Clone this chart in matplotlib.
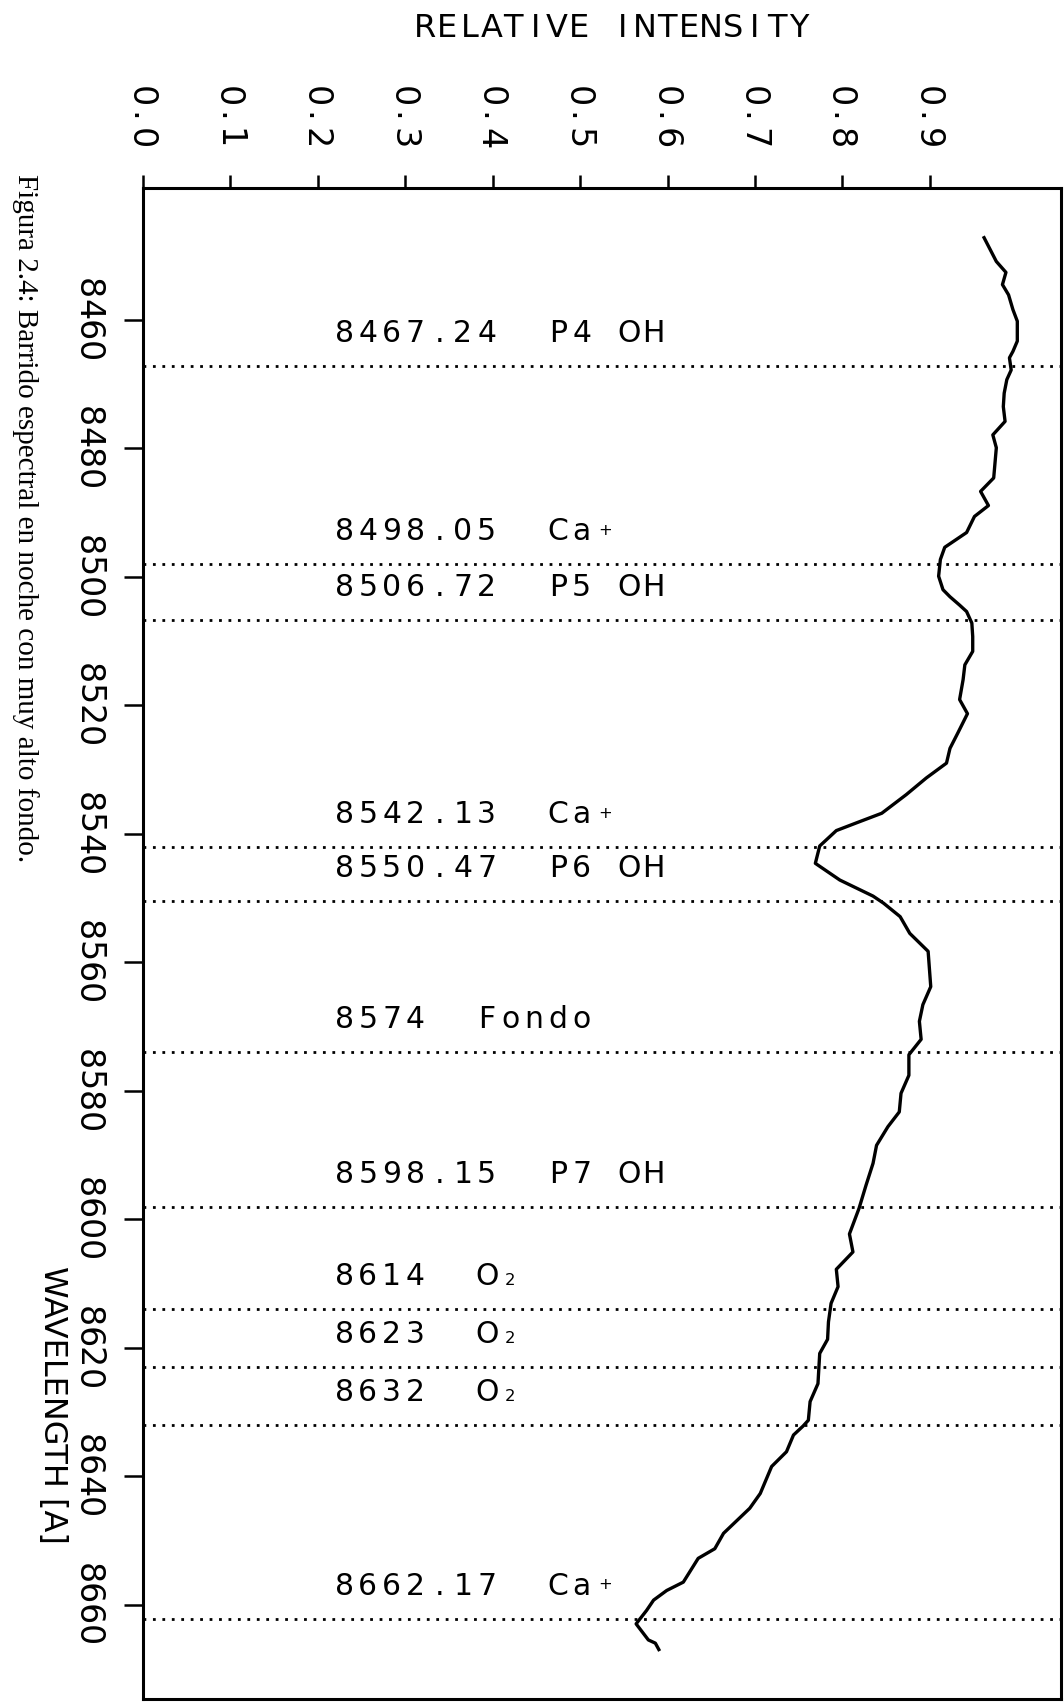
import matplotlib
matplotlib.use('Agg')
import matplotlib.pyplot as plt
import matplotlib.transforms as mtransforms

# sky spectrum scan: wavelength [A] against relative intensity
wavelength = [8447.2, 8450.9, 8452.6, 8454.5, 8456.1, 8458.4, 8460.2, 8463.3, 8464.9,
              8465.9, 8467.8, 8469.3, 8471.4, 8473.5, 8475.8, 8477.9, 8479.9, 8484.6,
              8486.7, 8488.9, 8490.6, 8493.1, 8495.4, 8497.3, 8499.9, 8502.0, 8503.1,
              8504.4, 8505.4, 8507.2, 8509.3, 8511.6, 8513.7, 8516.0, 8519.1, 8521.3,
              8524.3, 8526.7, 8529.0, 8531.3, 8533.9, 8536.8, 8538.3, 8539.5, 8541.9,
              8544.6, 8547.2, 8549.7, 8550.8, 8552.9, 8555.5, 8558.3, 8563.8, 8566.6,
              8569.2, 8572.0, 8574.4, 8577.6, 8580.4, 8583.3, 8585.6, 8588.5, 8591.3,
              8594.7, 8598.3, 8602.3, 8605.1, 8607.8, 8610.5, 8613.1, 8616.0, 8618.7,
              8620.9, 8625.6, 8628.4, 8631.3, 8632.2, 8633.6, 8636.2, 8638.5, 8642.7,
              8645.0, 8648.9, 8651.3, 8652.8, 8656.5, 8657.8, 8659.3, 8660.9, 8663.0,
              8665.5, 8666.0, 8667.0]
intensity = [0.962, 0.976, 0.987, 0.983, 0.990, 0.995, 1.000, 1.000, 0.995,
             0.991, 0.993, 0.988, 0.985, 0.984, 0.986, 0.972, 0.976, 0.973,
             0.958, 0.967, 0.951, 0.942, 0.917, 0.912, 0.910, 0.915, 0.923,
             0.934, 0.942, 0.948, 0.949, 0.949, 0.940, 0.938, 0.934, 0.943,
             0.932, 0.923, 0.919, 0.896, 0.873, 0.845, 0.816, 0.793, 0.774,
             0.769, 0.797, 0.835, 0.847, 0.866, 0.877, 0.898, 0.901, 0.892,
             0.888, 0.890, 0.876, 0.876, 0.867, 0.865, 0.852, 0.839, 0.835,
             0.827, 0.819, 0.808, 0.812, 0.793, 0.795, 0.787, 0.784, 0.783,
             0.774, 0.772, 0.763, 0.761, 0.755, 0.744, 0.736, 0.719, 0.706,
             0.694, 0.664, 0.654, 0.635, 0.618, 0.599, 0.584, 0.576, 0.564,
             0.578, 0.586, 0.590]

# identified emission / absorption lines
line_wl = ['8467.24', '8498.05', '8506.72', '8542.13', '8550.47', '8574',
           '8598.15', '8614', '8623', '8632', '8662.17']
line_id = ['P4 OH', 'Ca+', 'P5 OH', 'Ca+', 'P6 OH', 'Fondo',
           'P7 OH', 'O2', 'O2', 'O2', 'Ca+']

intensity_ticks = [0.0, 0.1, 0.2, 0.3, 0.4, 0.5, 0.6, 0.7, 0.8, 0.9]
wavelength_ticks = [8460, 8480, 8500, 8520, 8540, 8560, 8580, 8600, 8620, 8640, 8660]

caption = 'Figura 2.4: Barrido espectral en noche con muy alto fondo.'

FONT = 'DejaVu Sans'

fig = plt.figure(figsize=(10.64, 17.05), dpi=100)
ax = fig.add_axes([0.1344, 0.0035, 0.8628, 0.8861])


def spaced_text(x, y, s, transform, step, size, rotation=0, left=False, off=(0, 0)):
    # fixed-pitch layout, one glyph per cell (pen plotter lettering)
    n = len(s)
    for i, ch in enumerate(s):
        if ch == ' ':
            continue
        k = i if left else i - (n - 1) / 2
        small = ch in '+2' and i > 0 and s[i - 1].isalpha()
        fs = size * 0.55 if small else size
        lift = size * 0.18 if (small and ch == '+') else 0
        if rotation == 0:
            ox, oy = off[0] + k * step, off[1] + lift
        else:
            ox, oy = off[0] + lift, off[1] - k * step
        tr = mtransforms.offset_copy(transform, fig=fig, x=ox, y=oy, units='points')
        fig.text(x, y, ch, transform=tr, fontsize=fs, rotation=rotation,
                 rotation_mode='anchor', ha='center', va='baseline', family=FONT)


ax.plot(intensity, wavelength, color='black', lw=2.4, solid_joinstyle='round')

label_x = 0.23
for wl, name in zip(line_wl, line_id):
    ax.axhline(float(wl), color='black', lw=2.0, linestyle=(0, (1, 2.4)))
    spaced_text(label_x, float(wl), f'{wl}  {name}', ax.transData,
                step=17.1, size=21.5, left=True, off=(0, 17.3))

ax.set_xlim(0, 1.05)
ax.set_ylim(8674.7, 8439.5)

ax.xaxis.tick_top()
ax.set_xticks(intensity_ticks)
ax.set_yticks(wavelength_ticks)
ax.tick_params(axis='x', direction='out', length=9.4, width=1.8,
               labeltop=False, labelbottom=False)
ax.tick_params(axis='y', direction='out', length=13.7, width=1.8,
               labelleft=False, right=False)
for sp in ax.spines.values():
    sp.set_linewidth(2.2)

# tick labels, rotated like the rest of the landscape plot
for t in intensity_ticks:
    spaced_text(t, 1, f'{t:.1f}', ax.get_xaxis_transform(), step=15.1,
                size=24, rotation=270, off=(-8.8, 51.1))
for t in wavelength_ticks:
    spaced_text(0, t, str(t), ax.get_yaxis_transform(), step=15.1,
                size=24, rotation=270, off=(-46.8, 0))

spaced_text(0.5752, 0.9785, 'RELATIVE INTENSITY', fig.transFigure,
            step=15.8, size=23)
fig.text(0.0414, 0.176, 'WAVELENGTH [A]', rotation=270, rotation_mode='anchor',
         ha='center', va='baseline', fontsize=23, family=FONT)

fig.text(0.0235, 0.898, caption, rotation=270, ha='center', va='top',
         family='Liberation Serif', fontsize=21)

fig.savefig('out.png', dpi=100)
